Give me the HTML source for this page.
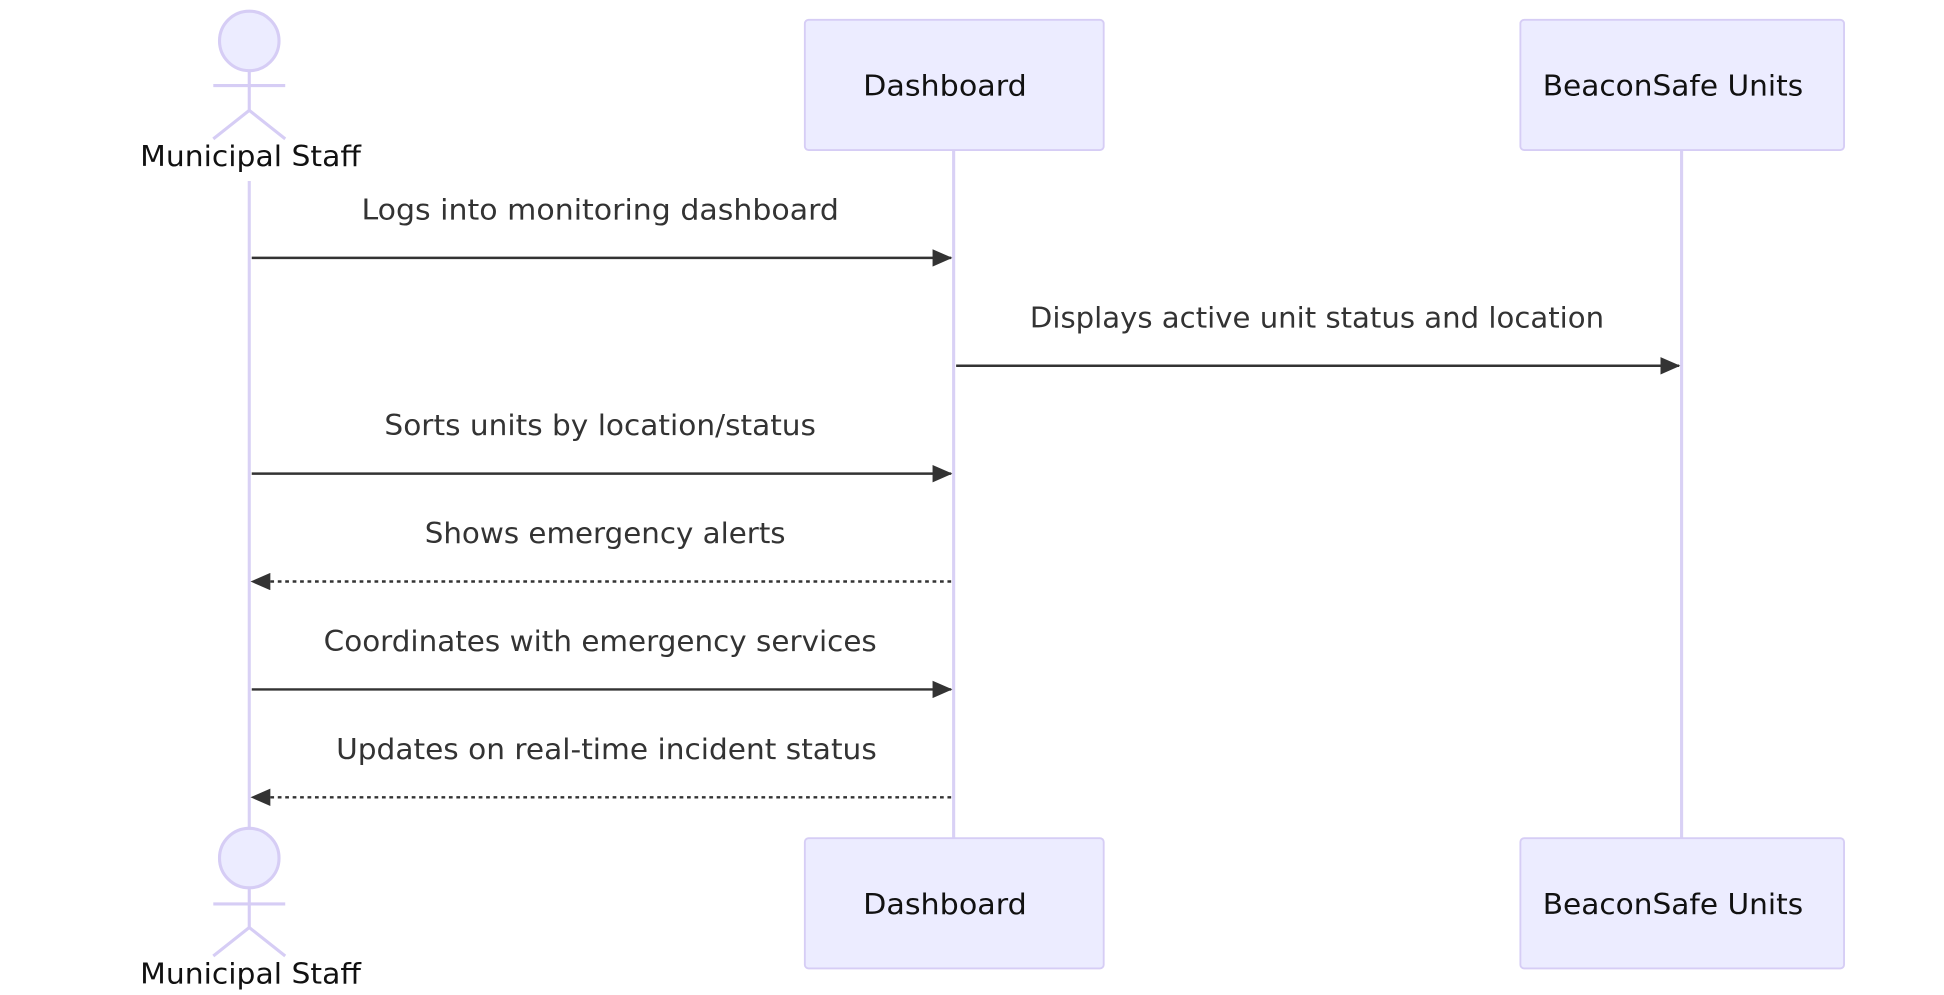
<!DOCTYPE html>
<html><head><meta charset="utf-8"><style>html,body{margin:0;padding:0;background:#fff;overflow:hidden}</style></head><body>
<svg width="1944" height="990" viewBox="0 0 1567.6 798.4" preserveAspectRatio="none" xmlns="http://www.w3.org/2000/svg" font-family="DejaVu Sans, Liberation Sans, sans-serif">
<defs><marker id="a" viewBox="0 0 16 14" refX="15" refY="7" markerWidth="16" markerHeight="14" markerUnits="userSpaceOnUse" orient="auto"><path d="M0,0 L16,7 L0,14 z" fill="#333"/></marker></defs>
<g stroke="#d9d1f5" stroke-width="2.5" fill="none">
<line x1="201" y1="146" x2="201" y2="668"/>
<line x1="769" y1="121" x2="769" y2="676"/>
<line x1="1356" y1="121" x2="1356" y2="676"/>
</g>
<g fill="#ececff" stroke="#d6cdf5" stroke-width="1.5">
<rect x="649" y="16" width="241" height="105" rx="3"/>
<rect x="1226" y="16" width="261" height="105" rx="3"/>
<rect x="649" y="676" width="241" height="105" rx="3"/>
<rect x="1226" y="676" width="261" height="105" rx="3"/>
</g>
<g stroke="#d6cdf5" stroke-width="2.5" fill="#ececff">
<circle cx="201" cy="33" r="24"/>
<line x1="201" y1="57" x2="201" y2="89"/><line x1="172" y1="69" x2="230" y2="69"/>
<polyline points="172,112 201,89 230,112" fill="none"/>
<circle cx="201" cy="692" r="24"/>
<line x1="201" y1="716" x2="201" y2="748"/><line x1="172" y1="729" x2="230" y2="729"/>
<polyline points="172,771 201,748 230,771" fill="none"/>
</g>
<g font-size="23" fill="#111" text-anchor="middle">
<text x="202" y="134" textLength="178" lengthAdjust="spacingAndGlyphs">Municipal Staff</text>
<text x="202" y="793" textLength="178" lengthAdjust="spacingAndGlyphs">Municipal Staff</text>
<text x="762" y="77" textLength="132" lengthAdjust="spacingAndGlyphs">Dashboard</text>
<text x="1349" y="77" textLength="210" lengthAdjust="spacingAndGlyphs">BeaconSafe Units</text>
<text x="762" y="737" textLength="132" lengthAdjust="spacingAndGlyphs">Dashboard</text>
<text x="1349" y="737" textLength="210" lengthAdjust="spacingAndGlyphs">BeaconSafe Units</text>
</g>
<g stroke="#333" stroke-width="2" marker-end="url(#a)">
<line x1="203" y1="208" x2="767" y2="208"/>
<line x1="771" y1="295" x2="1354" y2="295"/>
<line x1="203" y1="382" x2="767" y2="382"/>
<line x1="767" y1="469" x2="203" y2="469" stroke-dasharray="3,3"/>
<line x1="203" y1="556" x2="767" y2="556"/>
<line x1="767" y1="643" x2="203" y2="643" stroke-dasharray="3,3"/>
</g>
<g font-size="23" fill="#333" text-anchor="middle">
<text x="484" y="177" textLength="385" lengthAdjust="spacingAndGlyphs">Logs into monitoring dashboard</text>
<text x="1062" y="264" textLength="463" lengthAdjust="spacingAndGlyphs">Displays active unit status and location</text>
<text x="484" y="351" textLength="348" lengthAdjust="spacingAndGlyphs">Sorts units by location/status</text>
<text x="488" y="438" textLength="291" lengthAdjust="spacingAndGlyphs">Shows emergency alerts</text>
<text x="484" y="525" textLength="446" lengthAdjust="spacingAndGlyphs">Coordinates with emergency services</text>
<text x="489" y="612" textLength="436" lengthAdjust="spacingAndGlyphs">Updates on real-time incident status</text>
</g>
</svg>
</body></html>
